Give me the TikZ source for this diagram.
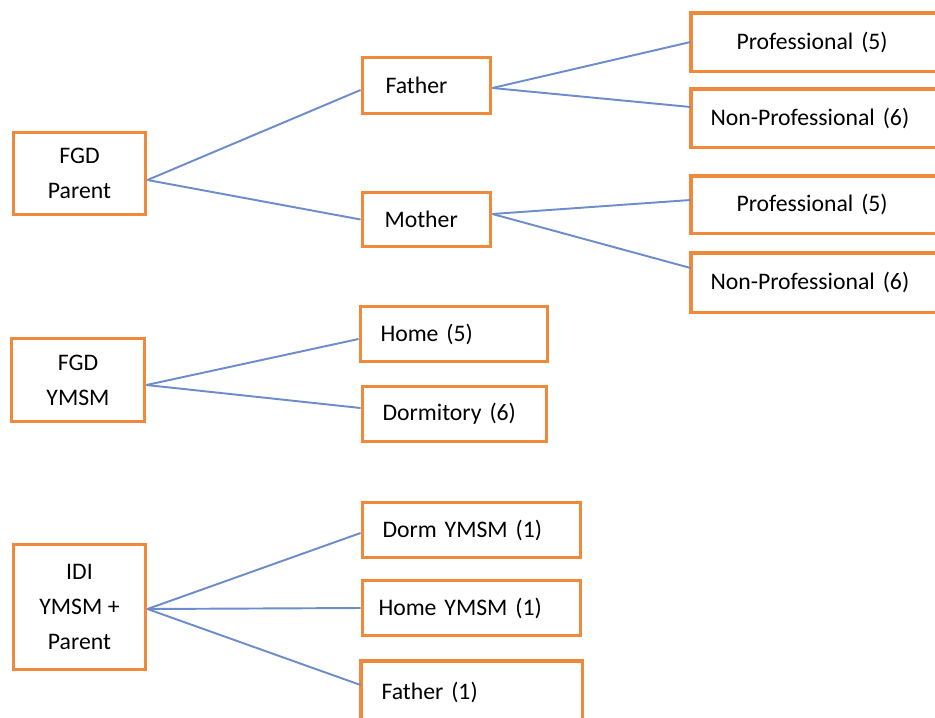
\documentclass[tikz,border=0pt]{standalone}
\usepackage{fontspec}
\setmainfont{Carlito}
\definecolor{naranja}{RGB}{240,138,58}
\definecolor{azul}{RGB}{108,140,204}
\tikzset{
	caja/.style={draw=naranja, line width=2.2pt, fill=white, inner ysep=0pt, align=center, font=\fontsize{13.5}{20}\selectfont},
	abierta/.style={caja, draw=none},
	borde/.style={draw=naranja, line width=2.2pt},
	izq/.style 2 args={inner xsep=#1, text width=#2, align=left},
	rama/.style={draw=azul, line width=1.1pt}
}
\begin{document}
\begin{tikzpicture}

	\useasboundingbox (0,0) rectangle (18.7,-14.34);
	\clip (0,0) rectangle (18.7,-14.34);

	% Cajas de la izquierda
	\node[caja, minimum width=2.64cm, minimum height=1.64cm] (FP) at (1.59,-3.47) {FGD\\Parent};
	\node[caja, minimum width=2.66cm, minimum height=1.66cm] (FY) at (1.56,-7.60) {FGD\\YMSM};
	\node[caja, minimum width=2.64cm, minimum height=2.50cm] (ID) at (1.59,-12.14) {IDI\\YMSM +\\Parent};

	% Cajas del medio
	\node[caja, minimum width=2.56cm, minimum height=1.12cm, izq={0.46cm}{1.64cm}] (Pa) at (8.53,-1.71) {Father};
	\node[caja, minimum width=2.56cm, minimum height=1.08cm, izq={0.44cm}{1.68cm}] (Ma) at (8.53,-4.39) {Mother};
	\node[caja, minimum width=3.74cm, minimum height=1.10cm, izq={0.40cm}{2.94cm}] (Ca) at (9.08,-6.68) {Home (5)};
	\node[caja, minimum width=3.68cm, minimum height=1.10cm, izq={0.40cm}{2.88cm}] (Do) at (9.09,-8.28) {Dormitory (6)};
	\node[caja, minimum width=4.36cm, minimum height=1.10cm, izq={0.40cm}{3.56cm}] (DY) at (9.43,-10.60) {Dorm YMSM (1)};
	\node[caja, minimum width=4.36cm, minimum height=1.10cm, izq={0.32cm}{3.72cm}] (CY) at (9.43,-12.16) {Home YMSM (1)};
	\node[abierta, minimum width=4.36cm, minimum height=1.16cm, izq={0.38cm}{3.60cm}] (P1) at (9.43,-13.84) {Father (1)};

	% Cajas de la derecha (abiertas por el borde)
	\node[abierta, minimum width=5.22cm, minimum height=1.10cm, izq={0.88cm}{3.46cm}] (Pr1) at (16.46,-0.84) {Professional (5)};
	\node[abierta, minimum width=5.22cm, minimum height=1.10cm, izq={0.36cm}{4.50cm}] (NP1) at (16.46,-2.36) {Non-Professional (6)};
	\node[abierta, minimum width=5.22cm, minimum height=1.08cm, izq={0.88cm}{3.46cm}] (Pr2) at (16.46,-4.09) {Professional (5)};
	\node[abierta, minimum width=5.22cm, minimum height=1.12cm, izq={0.36cm}{4.50cm}] (NP2) at (16.46,-5.65) {Non-Professional (6)};

	% Bordes de las cajas cortadas
	\foreach \n in {Pr1, NP1, Pr2, NP2}
	\draw[borde] (\n.north east) -- (\n.north west) -- (\n.south west) -- (\n.south east);
	\draw[borde] (P1.south west) -- (P1.north west) -- (P1.north east) -- (P1.south east);

	% Ramas de FGD Parent
	\draw[rama] ([yshift=-0.13cm]FP.east) -- ([yshift=-0.09cm]Pa.west);
	\draw[rama] ([yshift=-0.13cm]FP.east) -- (Ma.west);
	\draw[rama] ([yshift=-0.05cm]Pa.east) -- (Pr1.west);
	\draw[rama] ([yshift=-0.05cm]Pa.east) -- ([yshift=0.22cm]NP1.west);
	\draw[rama] ([yshift=0.11cm]Ma.east) -- ([yshift=0.09cm]Pr2.west);
	\draw[rama] ([yshift=0.11cm]Ma.east) -- ([yshift=0.29cm]NP2.west);

	% Ramas de FGD YMSM
	\draw[rama] ([yshift=-0.10cm]FY.east) -- ([yshift=-0.10cm]Ca.west);
	\draw[rama] ([yshift=-0.10cm]FY.east) -- ([yshift=0.12cm]Do.west);

	% Ramas de IDI
	\draw[rama] ([yshift=-0.04cm]ID.east) -- ([yshift=-0.06cm]DY.west);
	\draw[rama] ([yshift=-0.04cm]ID.east) -- (CY.west);
	\draw[rama] ([yshift=-0.04cm]ID.east) -- ([yshift=0.14cm]P1.west);

\end{tikzpicture}
\end{document}
